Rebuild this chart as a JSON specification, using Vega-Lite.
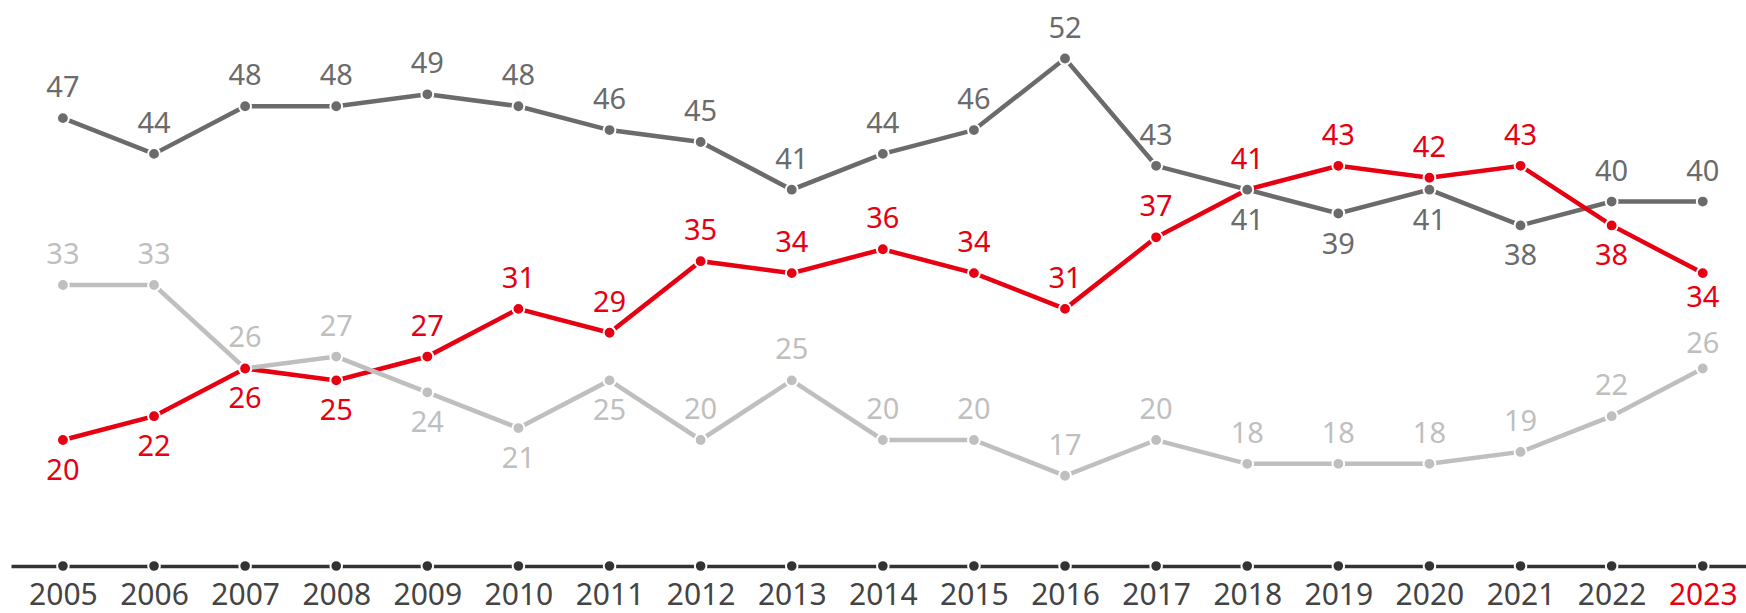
{
  "$schema": "https://vega.github.io/schema/vega-lite/v6.json",
  "autosize": {"type": "none"},
  "width": 1735,
  "height": 566,
  "padding": {"left": 11, "top": 0, "right": 0, "bottom": 47},
  "background": "white",
  "config": {"view": {"stroke": null}, "font": "Noto Sans"},
  "data": {"values": [
    {"year": 2005, "series": "A", "value": 47, "lbl": "above"},
    {"year": 2006, "series": "A", "value": 44, "lbl": "above"},
    {"year": 2007, "series": "A", "value": 48, "lbl": "above"},
    {"year": 2008, "series": "A", "value": 48, "lbl": "above"},
    {"year": 2009, "series": "A", "value": 49, "lbl": "above"},
    {"year": 2010, "series": "A", "value": 48, "lbl": "above"},
    {"year": 2011, "series": "A", "value": 46, "lbl": "above"},
    {"year": 2012, "series": "A", "value": 45, "lbl": "above"},
    {"year": 2013, "series": "A", "value": 41, "lbl": "above"},
    {"year": 2014, "series": "A", "value": 44, "lbl": "above"},
    {"year": 2015, "series": "A", "value": 46, "lbl": "above"},
    {"year": 2016, "series": "A", "value": 52, "lbl": "above"},
    {"year": 2017, "series": "A", "value": 43, "lbl": "above"},
    {"year": 2018, "series": "A", "value": 41, "lbl": "below"},
    {"year": 2019, "series": "A", "value": 39, "lbl": "below"},
    {"year": 2020, "series": "A", "value": 41, "lbl": "below"},
    {"year": 2021, "series": "A", "value": 38, "lbl": "below"},
    {"year": 2022, "series": "A", "value": 40, "lbl": "above"},
    {"year": 2023, "series": "A", "value": 40, "lbl": "above"},
    {"year": 2005, "series": "B", "value": 20, "lbl": "below"},
    {"year": 2006, "series": "B", "value": 22, "lbl": "below"},
    {"year": 2007, "series": "B", "value": 26, "lbl": "below"},
    {"year": 2008, "series": "B", "value": 25, "lbl": "below"},
    {"year": 2009, "series": "B", "value": 27, "lbl": "above"},
    {"year": 2010, "series": "B", "value": 31, "lbl": "above"},
    {"year": 2011, "series": "B", "value": 29, "lbl": "above"},
    {"year": 2012, "series": "B", "value": 35, "lbl": "above"},
    {"year": 2013, "series": "B", "value": 34, "lbl": "above"},
    {"year": 2014, "series": "B", "value": 36, "lbl": "above"},
    {"year": 2015, "series": "B", "value": 34, "lbl": "above"},
    {"year": 2016, "series": "B", "value": 31, "lbl": "above"},
    {"year": 2017, "series": "B", "value": 37, "lbl": "above"},
    {"year": 2018, "series": "B", "value": 41, "lbl": "above"},
    {"year": 2019, "series": "B", "value": 43, "lbl": "above"},
    {"year": 2020, "series": "B", "value": 42, "lbl": "above"},
    {"year": 2021, "series": "B", "value": 43, "lbl": "above"},
    {"year": 2022, "series": "B", "value": 38, "lbl": "below"},
    {"year": 2023, "series": "B", "value": 34, "lbl": "below-near"},
    {"year": 2005, "series": "C", "value": 33, "lbl": "above"},
    {"year": 2006, "series": "C", "value": 33, "lbl": "above"},
    {"year": 2007, "series": "C", "value": 26, "lbl": "above"},
    {"year": 2008, "series": "C", "value": 27, "lbl": "above"},
    {"year": 2009, "series": "C", "value": 24, "lbl": "below"},
    {"year": 2010, "series": "C", "value": 21, "lbl": "below"},
    {"year": 2011, "series": "C", "value": 25, "lbl": "below"},
    {"year": 2012, "series": "C", "value": 20, "lbl": "above"},
    {"year": 2013, "series": "C", "value": 25, "lbl": "above"},
    {"year": 2014, "series": "C", "value": 20, "lbl": "above"},
    {"year": 2015, "series": "C", "value": 20, "lbl": "above"},
    {"year": 2016, "series": "C", "value": 17, "lbl": "above"},
    {"year": 2017, "series": "C", "value": 20, "lbl": "above"},
    {"year": 2018, "series": "C", "value": 18, "lbl": "above"},
    {"year": 2019, "series": "C", "value": 18, "lbl": "above"},
    {"year": 2020, "series": "C", "value": 18, "lbl": "above"},
    {"year": 2021, "series": "C", "value": 19, "lbl": "above"},
    {"year": 2022, "series": "C", "value": 22, "lbl": "above"},
    {"year": 2023, "series": "C", "value": 26, "lbl": "above-near"}
  ]},
  "encoding": {
    "x": {
      "field": "year",
      "type": "quantitative",
      "scale": {"domain": [2004.43, 2023.475], "nice": false, "zero": false},
      "axis": {
        "title": null,
        "values": [2005, 2006, 2007, 2008, 2009, 2010, 2011, 2012, 2013, 2014, 2015, 2016, 2017, 2018, 2019, 2020, 2021, 2022, 2023],
        "format": "d",
        "grid": false,
        "ticks": false,
        "domainColor": "#333333",
        "domainWidth": 3.5,
        "labelFontSize": 30,
        "labelPadding": 14,
        "labelFlush": false,
        "labelOverlap": false,
        "labelColor": {"condition": {"test": "datum.value == 2023", "value": "#e60012"}, "value": "#444444"}
      }
    },
    "y": {
      "field": "value",
      "type": "quantitative",
      "scale": {"domain": [9.43, 56.91], "nice": false, "zero": false},
      "axis": null
    },
    "color": {
      "field": "series",
      "type": "nominal",
      "scale": {"domain": ["A", "B", "C"], "range": ["#6b6b6b", "#e60012", "#bfbfbf"]},
      "legend": null
    },
    "order": {"field": "series", "sort": "descending"}
  },
  "layer": [
    {
      "mark": {"type": "point", "filled": true, "size": 135, "opacity": 1, "stroke": "white", "strokeWidth": 2},
      "transform": [{"filter": "datum.series == 'A'"}],
      "encoding": {"y": {"datum": 9.43}, "color": {"value": "#333333"}}
    },
    {
      "mark": {"type": "line", "strokeWidth": 4.5},
      "encoding": {"detail": {"field": "series"}, "order": {"field": "year"}}
    },
    {
      "mark": {"type": "point", "filled": true, "size": 140, "opacity": 1, "stroke": "white", "strokeWidth": 2}
    },
    {
      "transform": [{"filter": "datum.lbl == 'above'"}],
      "mark": {"type": "text", "fontSize": 29, "dy": -30, "baseline": "middle"},
      "encoding": {
        "text": {"field": "value", "type": "quantitative"},
        "fontWeight": {"condition": {"test": "datum.series == 'B'", "value": 600}, "value": "normal"}
      }
    },
    {
      "transform": [{"filter": "datum.lbl == 'above-near'"}],
      "mark": {"type": "text", "fontSize": 29, "dy": -24, "baseline": "middle"},
      "encoding": {
        "text": {"field": "value", "type": "quantitative"},
        "fontWeight": {"condition": {"test": "datum.series == 'B'", "value": 600}, "value": "normal"}
      }
    },
    {
      "transform": [{"filter": "datum.lbl == 'below'"}],
      "mark": {"type": "text", "fontSize": 29, "dy": 31, "baseline": "middle"},
      "encoding": {
        "text": {"field": "value", "type": "quantitative"},
        "fontWeight": {"condition": {"test": "datum.series == 'B'", "value": 600}, "value": "normal"}
      }
    },
    {
      "transform": [{"filter": "datum.lbl == 'below-near'"}],
      "mark": {"type": "text", "fontSize": 29, "dy": 25, "baseline": "middle"},
      "encoding": {
        "text": {"field": "value", "type": "quantitative"},
        "fontWeight": {"condition": {"test": "datum.series == 'B'", "value": 600}, "value": "normal"}
      }
    }
  ]
}
